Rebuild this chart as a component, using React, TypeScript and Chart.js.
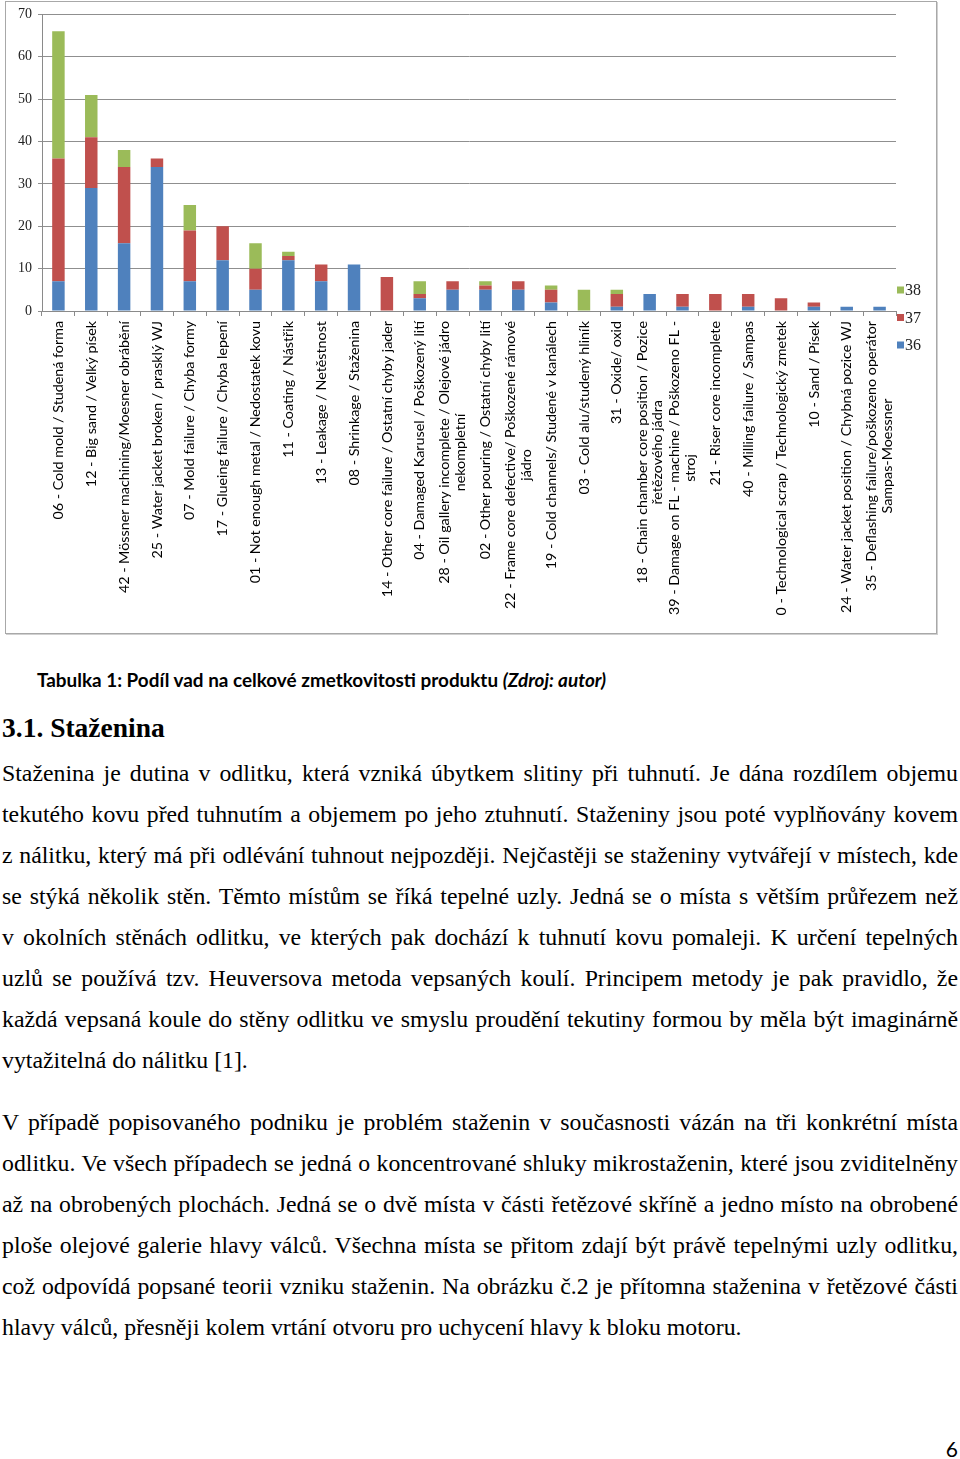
import React, { useEffect, useRef } from "react";
import { Chart, registerables } from "chart.js";

Chart.register(...registerables);

// ---------- DATA ----------
const categories: (string | string[])[] = [
  "06 - Cold mold / Studená forma",
  "12 - Big sand / Velký písek",
  "42 - Mössner machining/Moesner obrábění",
  "25 - Water jacket broken / prasklý WJ",
  "07 - Mold failure / Chyba formy",
  "17 - Glueing failure / Chyba lepení",
  "01 - Not enough metal / Nedostatek kovu",
  "11 - Coating / Nástřik",
  "13 - Leakage / Netěstnost",
  "08 - Shrinkage / Staženina",
  "14 - Other core failure / Ostatní chyby jader",
  "04 - Damaged Karusel / Poškozený lití",
  ["28 - Oil gallery incomplete / Olejové jádro", "nekompletní"],
  "02 - Other pouring / Ostatní chyby lití",
  ["22 - Frame core defective/ Poškozené rámové", "jádro"],
  "19 - Cold channels/ Studené v kanálech",
  "03 - Cold alu/studený hliník",
  "31 - Oxide/ oxid",
  ["18 - Chain chamber core position / Pozice", "řetězového jádra"],
  ["39 - Damage on FL - machine / Poškozeno FL -", "stroj"],
  "21 - Riser core incomplete",
  "40 - Milling failure / Sampas",
  "0 - Technological scrap / Technologický zmetek",
  "10 - Sand / Písek",
  "24 - Water jacket position / Chybná pozice WJ",
  ["35 - Deflashing failure/poškozeno operátor", "Sampas-Moessner"],
];

const series36 = [7, 29, 16, 34, 7, 12, 5, 12, 7, 11, 0, 3, 5, 5, 5, 2, 0, 1, 4, 1, 0, 1, 0, 1, 1, 1];
const series37 = [29, 12, 18, 2, 12, 8, 5, 1, 4, 0, 8, 1, 2, 1, 2, 3, 0, 3, 0, 3, 4, 3, 3, 1, 0, 0];
const series38 = [30, 10, 4, 0, 6, 0, 6, 1, 0, 0, 0, 3, 0, 1, 0, 1, 5, 1, 0, 0, 0, 0, 0, 0, 0, 0];

const seriesNames = ["36", "37", "38"];
const seriesColors = ["#4F81BD", "#C0504D", "#9BBB59"];

const yMin = 0;
const yMax = 70;
const yStep = 10;

const para1 = [
  "Staženina je dutina v odlitku, která vzniká úbytkem slitiny při tuhnutí. Je dána rozdílem objemu",
  "tekutého kovu před tuhnutím a objemem po jeho ztuhnutí. Staženiny jsou poté vyplňovány kovem",
  "z nálitku, který má při odlévání tuhnout nejpozději. Nejčastěji se staženiny vytvářejí v místech, kde",
  "se stýká několik stěn. Těmto místům se říká tepelné uzly. Jedná se o místa s větším průřezem než",
  "v okolních stěnách odlitku, ve kterých pak dochází k tuhnutí kovu pomaleji. K určení tepelných",
  "uzlů se používá tzv. Heuversova metoda vepsaných koulí. Principem metody je pak pravidlo, že",
  "každá vepsaná koule do stěny odlitku ve smyslu proudění tekutiny formou by měla být imaginárně",
  "vytažitelná do nálitku [1].",
];

const para2 = [
  "V případě popisovaného podniku je problém staženin v současnosti vázán na tři konkrétní místa",
  "odlitku. Ve všech případech se jedná o koncentrované shluky mikrostaženin, které jsou zviditelněny",
  "až na obrobených plochách. Jedná se o dvě místa v části řetězové skříně a jedno místo na obrobené",
  "ploše olejové galerie hlavy válců. Všechna místa se přitom zdají být právě tepelnými uzly odlitku,",
  "což odpovídá popsané teorii vzniku staženin. Na obrázku č.2 je přítomna staženina v řetězové části",
  "hlavy válců, přesněji kolem vrtání otvoru pro uchycení hlavy k bloku motoru.",
];

// ---------- PLUGINS ----------
const xLabelPlugin = {
  id: "xLabelsRotated",
  afterDraw(chart: any) {
    const ctx = chart.ctx;
    const xs = chart.scales.x;
    const labels = chart.data.labels as (string | string[])[];
    const top = chart.chartArea.bottom + 10;
    const lh = 15.5;
    ctx.save();
    ctx.font = "14.3px Lato";
    ctx.fillStyle = "#000";
    ctx.textAlign = "center";
    ctx.textBaseline = "middle";
    labels.forEach((lab, i) => {
      const lines = Array.isArray(lab) ? lab : [lab];
      const w = Math.max(...lines.map((l) => ctx.measureText(l).width));
      const cx = xs.getPixelForValue(i);
      ctx.save();
      ctx.translate(cx, top + w / 2);
      ctx.rotate(-Math.PI / 2);
      lines.forEach((l, k) => {
        ctx.fillText(l, 0, (k - (lines.length - 1) / 2) * lh);
      });
      ctx.restore();
    });
    ctx.restore();
  },
};

const legendPlugin = {
  id: "rightLegend",
  afterDraw(chart: any) {
    const ctx = chart.ctx;
    const ds = chart.data.datasets;
    const x0 = chart.chartArea.right;
    const y0 = chart.height / 2 - 30;
    const gap = 27.5;
    ctx.save();
    ctx.font = "16px 'Liberation Serif'";
    ctx.textBaseline = "middle";
    ctx.textAlign = "left";
    for (let k = 0; k < ds.length; k++) {
      const d = ds[ds.length - 1 - k];
      const y = y0 + k * gap;
      ctx.fillStyle = d.backgroundColor;
      ctx.fillRect(x0 + 1, y - 3.5, 7, 7);
      ctx.fillStyle = "#222";
      ctx.fillText(d.label, x0 + 9, y + 1);
    }
    ctx.restore();
  },
};

function StackedChart() {
  const ref = useRef<HTMLCanvasElement | null>(null);
  useEffect(() => {
    if (!ref.current) return;
    const values = [series36, series37, series38];
    const chart = new Chart(ref.current, {
      type: "bar",
      data: {
        labels: categories as any,
        datasets: values.map((v, i) => ({
          label: seriesNames[i],
          data: v,
          backgroundColor: seriesColors[i],
          borderWidth: 0,
          categoryPercentage: 1,
          barPercentage: 0.38,
        })),
      },
      options: {
        responsive: false,
        maintainAspectRatio: false,
        animation: false,
        events: [],
        layout: { padding: { left: 0, top: 11, right: 64, bottom: 324 } },
        plugins: {
          legend: { display: false },
          tooltip: { enabled: false },
          title: { display: false },
        },
        scales: {
          x: {
            stacked: true,
            grid: {
              display: true,
              drawOnChartArea: false,
              drawTicks: true,
              tickLength: 5,
              offset: true,
              color: "#8a8a8a",
            },
            border: { color: "#8a8a8a" },
            ticks: { display: false },
            afterFit: (s: any) => {
              s.height = 5;
            },
          },
          y: {
            stacked: true,
            min: yMin,
            max: yMax,
            ticks: {
              stepSize: yStep,
              padding: 6,
              color: "#222",
              font: { family: "'Liberation Serif'", size: 14 },
            },
            grid: { color: "#8f8f8f", tickLength: 4 },
            border: { color: "#8a8a8a" },
            afterFit: (s: any) => {
              s.width = 42;
            },
          },
        },
      },
      plugins: [xLabelPlugin, legendPlugin],
    });
    return () => chart.destroy();
  }, []);
  return (
    <canvas
      ref={ref}
      width={960}
      height={640}
      style={{ position: "absolute", left: 0, top: 0, width: 960, height: 640 }}
    />
  );
}

const lineStyle = (last: boolean): React.CSSProperties => ({
  height: 41,
  lineHeight: "41px",
  textAlign: last ? "left" : "justify",
  textAlignLast: last ? "left" : "justify",
  whiteSpace: "nowrap",
  overflow: "visible",
});

export default function App() {
  return (
    <div
      style={{
        position: "absolute",
        left: 0,
        top: 0,
        width: 960,
        height: 1459,
        background: "#fff",
        overflow: "hidden",
      }}
    >
      <div
        style={{
          position: "absolute",
          left: 5,
          top: 1,
          width: 930,
          height: 631,
          border: "1px solid #a8a8a8",
          boxShadow: "1px 1px 0 #d0d0d0",
        }}
      />
      <StackedChart />
      <div
        style={{
          position: "absolute",
          left: 37,
          top: 668,
          fontFamily: "Lato, sans-serif",
          fontWeight: 700,
          fontSize: 18.9,
          color: "#000",
          whiteSpace: "nowrap",
          lineHeight: "24px",
        }}
      >
        Tabulka 1: Podíl vad na celkové zmetkovitosti produktu <i>(Zdroj: autor)</i>
      </div>
      <div
        style={{
          position: "absolute",
          left: 2,
          top: 711,
          fontFamily: "'Liberation Serif', serif",
          fontWeight: 700,
          fontSize: 27.5,
          color: "#000",
          whiteSpace: "nowrap",
          lineHeight: "34px",
        }}
      >
        3.1. Staženina
      </div>
      <div
        style={{
          position: "absolute",
          left: 2,
          top: 753,
          width: 956,
          fontFamily: "'Liberation Serif', serif",
          fontSize: 23.8,
          color: "#000",
        }}
      >
        {para1.map((l, i) => (
          <div key={i} style={lineStyle(i === para1.length - 1)}>
            {l}
          </div>
        ))}
      </div>
      <div
        style={{
          position: "absolute",
          left: 2,
          top: 1102,
          width: 956,
          fontFamily: "'Liberation Serif', serif",
          fontSize: 23.8,
          color: "#000",
        }}
      >
        {para2.map((l, i) => (
          <div key={i} style={lineStyle(i === para2.length - 1)}>
            {l}
          </div>
        ))}
      </div>
      <div
        style={{
          position: "absolute",
          right: 2,
          top: 1436,
          fontFamily: "Lato, sans-serif",
          fontSize: 21,
          color: "#000",
          lineHeight: "26px",
        }}
      >
        6
      </div>
    </div>
  );
}
